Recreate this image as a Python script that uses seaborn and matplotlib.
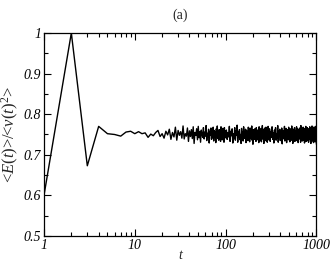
import numpy as np
import matplotlib
matplotlib.use("Agg")
import matplotlib.pyplot as plt
from matplotlib.ticker import LogLocator, FixedLocator, MultipleLocator
import seaborn as sns

# early time steps t = 1..19
t_early = np.arange(1, 20)
ratio_early = [0.600, 1.000, 0.673, 0.770, 0.752, 0.750, 0.746, 0.756, 0.758, 0.752,
               0.757, 0.752, 0.754, 0.743, 0.751, 0.747, 0.755, 0.760, 0.745]

# t = 20..100
t_mid = np.arange(20, 101)
ratio_mid = [0.752, 0.741, 0.758, 0.749, 0.763, 0.738, 0.755, 0.744, 0.768, 0.736,
             0.760, 0.748, 0.757, 0.741, 0.771, 0.739, 0.752, 0.746, 0.766, 0.733,
             0.759, 0.745, 0.762, 0.740, 0.769, 0.728, 0.755, 0.748, 0.764, 0.737,
             0.770, 0.742, 0.757, 0.731, 0.761, 0.750, 0.743, 0.767, 0.739, 0.756,
             0.746, 0.772, 0.735, 0.753, 0.744, 0.763, 0.729, 0.758, 0.749, 0.766,
             0.738, 0.754, 0.742, 0.768, 0.734, 0.760, 0.747, 0.756, 0.730, 0.764,
             0.745, 0.771, 0.740, 0.752, 0.736, 0.762, 0.748, 0.757, 0.733, 0.769,
             0.743, 0.759, 0.737, 0.765, 0.746, 0.754, 0.731, 0.767, 0.741, 0.758,
             0.744]

# t = 102..300 (every 2nd step)
t_late1 = np.arange(102, 301, 2)
ratio_late1 = [0.761, 0.738, 0.755, 0.744, 0.770, 0.733, 0.758, 0.747, 0.764, 0.729,
               0.752, 0.741, 0.767, 0.736, 0.759, 0.749, 0.773, 0.731, 0.756, 0.743,
               0.762, 0.737, 0.750, 0.728, 0.765, 0.745, 0.757, 0.734, 0.769, 0.740,
               0.754, 0.746, 0.763, 0.730, 0.760, 0.742, 0.751, 0.735, 0.768, 0.748,
               0.757, 0.732, 0.766, 0.744, 0.753, 0.739, 0.771, 0.736, 0.759, 0.726,
               0.762, 0.747, 0.755, 0.738, 0.764, 0.741, 0.758, 0.733, 0.767, 0.745,
               0.752, 0.737, 0.761, 0.749, 0.756, 0.730, 0.769, 0.743, 0.760, 0.735,
               0.754, 0.746, 0.765, 0.732, 0.758, 0.740, 0.772, 0.739, 0.751, 0.744,
               0.763, 0.728, 0.757, 0.748, 0.766, 0.736, 0.753, 0.742, 0.768, 0.734,
               0.759, 0.745, 0.762, 0.731, 0.755, 0.740, 0.770, 0.737, 0.752, 0.747]

# t = 305..1000 (every 5th step)
t_late2 = np.arange(305, 1001, 5)
ratio_late2 = [0.764, 0.733, 0.758, 0.743, 0.769, 0.738, 0.755, 0.729, 0.761, 0.746,
               0.767, 0.736, 0.752, 0.741, 0.772, 0.731, 0.759, 0.748, 0.763, 0.735,
               0.756, 0.744, 0.766, 0.727, 0.760, 0.739, 0.754, 0.747, 0.770, 0.734,
               0.757, 0.742, 0.765, 0.730, 0.762, 0.745, 0.753, 0.737, 0.768, 0.741,
               0.759, 0.732, 0.764, 0.748, 0.756, 0.736, 0.771, 0.743, 0.758, 0.728,
               0.763, 0.740, 0.755, 0.746, 0.767, 0.733, 0.760, 0.744, 0.752, 0.738,
               0.769, 0.735, 0.757, 0.747, 0.764, 0.730, 0.761, 0.742, 0.754, 0.739,
               0.766, 0.745, 0.758, 0.731, 0.772, 0.737, 0.753, 0.749, 0.762, 0.734,
               0.759, 0.741, 0.768, 0.736, 0.755, 0.744, 0.765, 0.729, 0.760, 0.747,
               0.756, 0.738, 0.770, 0.733, 0.763, 0.743, 0.751, 0.740, 0.767, 0.735,
               0.758, 0.746, 0.764, 0.731, 0.761, 0.739, 0.754, 0.748, 0.769, 0.737,
               0.757, 0.742, 0.766, 0.728, 0.762, 0.745, 0.753, 0.736, 0.771, 0.740,
               0.759, 0.734, 0.765, 0.747, 0.756, 0.730, 0.768, 0.743, 0.760, 0.738,
               0.755, 0.741, 0.763, 0.732, 0.770, 0.746, 0.752, 0.735, 0.761, 0.726]

xticks = [1, 10, 100, 1000]
xticklabels = ['1', '10', '100', '1000']
yticks = [0.5, 0.6, 0.7, 0.8, 0.9, 1.0]
yticklabels = ['0.5', '0.6', '0.7', '0.8', '0.9', '1']

t = np.concatenate([t_early, t_mid, t_late1, t_late2])
ratio = np.concatenate([ratio_early, ratio_mid, ratio_late1, ratio_late2])

sns.set_style('ticks')
plt.rcParams['font.family'] = 'serif'
plt.rcParams['font.serif'] = ['Liberation Serif', 'DejaVu Serif']
plt.rcParams['mathtext.fontset'] = 'custom'
plt.rcParams['mathtext.rm'] = 'Liberation Serif'
plt.rcParams['mathtext.it'] = 'Liberation Serif:italic'
plt.rcParams['font.size'] = 10

fig = plt.figure(figsize=(3.32, 2.63), dpi=100)
ax = fig.add_axes([0.1325, 0.1027, 0.8205, 0.7718])

sns.lineplot(x=t, y=ratio, ax=ax, color='black', lw=1.0,
             estimator=None, sort=False)

ax.set_xscale('log')
ax.set_xlim(1, 1000)
ax.set_ylim(0.5, 1.0)
ax.xaxis.set_major_locator(FixedLocator(xticks))
ax.set_xticklabels(xticklabels, style='italic')
ax.xaxis.set_minor_locator(LogLocator(base=10, subs=np.arange(2, 10)))
ax.xaxis.set_minor_formatter(plt.NullFormatter())
ax.yaxis.set_major_locator(FixedLocator(yticks))
ax.set_yticklabels(yticklabels, style='italic')
ax.yaxis.set_minor_locator(MultipleLocator(0.05))

ax.tick_params(which='both', direction='in', top=True, right=True,
               width=0.8, colors='black', labelsize=10, pad=2)
ax.tick_params(which='major', length=5)
ax.tick_params(which='minor', length=3)
for s in ax.spines.values():
    s.set_linewidth(0.9)
    s.set_color('black')

ax.set_xlabel('t', style='italic', labelpad=-2, fontsize=10)
ax.set_ylabel(r'<$E(t)$>/<$v(t)^2$>', labelpad=2, fontsize=12)
ax.set_title('(a)', pad=10, fontsize=10)

fig.savefig('out.png', dpi=100)
